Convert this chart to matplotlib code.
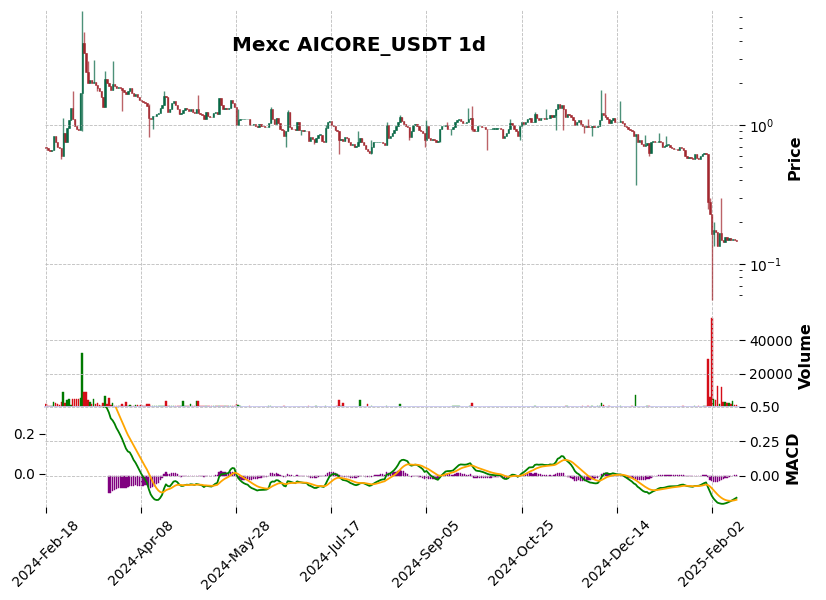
import numpy as np
import pandas as pd
import matplotlib
matplotlib.use("Agg")
import matplotlib.pyplot as plt
from matplotlib.ticker import LogLocator, NullFormatter

# daily candles (Mexc AICORE_USDT, 1d)
start_date = "2024-02-18"
first_open = 0.70
closes = [
    0.68, 0.66, 0.65, 0.66, 0.84, 0.75, 0.70, 0.68, 0.60, 0.88,
    0.76, 0.95, 1.09, 1.33, 1.10, 0.98, 0.93, 0.92, 1.70, 3.90,
    3.30, 2.40, 2.00, 2.10, 2.00, 2.05, 1.95, 1.85, 1.75, 1.58,
    1.35, 2.15, 2.00, 1.90, 1.78, 1.98, 1.92, 1.84, 1.88, 1.84,
    1.80, 1.72, 1.68, 1.75, 1.85, 1.70, 1.62, 1.66, 1.58, 1.52,
    1.48, 1.47, 1.45, 1.38, 1.12, 1.10, 1.16, 1.16, 1.20, 1.22,
    1.32, 1.40, 1.62, 1.58, 1.25, 1.30, 1.45, 1.50, 1.40, 1.30,
    1.20, 1.22, 1.28, 1.32, 1.30, 1.26, 1.30, 1.25, 1.22, 1.30,
    1.22, 1.20, 1.18, 1.10, 1.25, 1.16, 1.15, 1.14, 1.22, 1.25,
    1.21, 1.56, 1.40, 1.30, 1.32, 1.30, 1.33, 1.52, 1.45, 1.35,
    1.00, 1.08, 1.10, 1.10, 1.10, 1.10, 1.10, 1.00, 1.00, 1.01,
    0.98, 0.96, 1.02, 0.99, 0.98, 0.97, 0.97, 1.03, 1.30, 1.10,
    1.02, 1.12, 1.03, 0.94, 0.92, 0.83, 0.90, 1.25, 0.97, 0.94,
    0.93, 0.92, 1.05, 0.92, 0.92, 0.91, 0.91, 0.90, 0.77, 0.82,
    0.79, 0.76, 0.80, 0.85, 0.85, 0.77, 0.76, 0.95, 1.05, 1.07,
    1.00, 0.98, 0.92, 0.90, 0.78, 0.79, 0.77, 0.82, 0.80, 0.76,
    0.72, 0.73, 0.70, 0.71, 0.76, 0.80, 0.76, 0.72, 0.67, 0.65,
    0.63, 0.70, 0.75, 0.75, 0.75, 0.75, 0.76, 0.74, 0.72, 1.00,
    0.80, 0.84, 0.88, 0.92, 0.98, 1.05, 1.14, 1.07, 1.02, 0.98,
    0.97, 0.82, 0.90, 1.00, 1.02, 0.98, 0.92, 0.90, 0.88, 0.78,
    0.98, 0.80, 0.78, 0.79, 0.78, 0.76, 0.77, 0.94, 0.98, 0.98,
    1.00, 0.94, 0.93, 0.93, 0.96, 1.05, 1.08, 1.10, 1.07, 1.03,
    1.04, 1.06, 1.10, 1.12, 0.93, 0.90, 0.90, 0.98, 0.99, 0.97,
    0.96, 0.94, 0.93, 0.93, 0.94, 0.94, 0.94, 0.95, 0.95, 0.94,
    0.80, 0.83, 0.88, 0.94, 1.03, 1.00, 0.93, 0.90, 0.84, 0.98,
    1.05, 1.02, 1.06, 1.10, 1.12, 1.05, 1.06, 1.20, 1.12, 1.09,
    1.12, 1.12, 1.10, 1.12, 1.13, 1.18, 1.14, 1.18, 1.30, 1.42,
    1.32, 1.40, 1.30, 1.15, 1.20, 1.18, 1.15, 1.08, 1.00, 1.05,
    1.08, 1.02, 0.98, 0.96, 0.99, 0.97, 0.96, 0.98, 0.96, 0.96,
    0.98, 1.09, 1.22, 1.19, 1.15, 1.10, 1.04, 1.08, 1.12, 1.06,
    1.05, 1.06, 1.07, 1.04, 0.98, 0.96, 0.94, 0.92, 0.90, 0.84,
    0.86, 0.76, 0.78, 0.73, 0.71, 0.72, 0.74, 0.63, 0.76, 0.77,
    0.75, 0.76, 0.77, 0.75, 0.70, 0.71, 0.72, 0.72, 0.70, 0.68,
    0.67, 0.67, 0.66, 0.70, 0.68, 0.66, 0.60, 0.58, 0.59, 0.58,
    0.57, 0.62, 0.58, 0.57, 0.60, 0.62, 0.63, 0.62, 0.28, 0.23,
    0.165, 0.175, 0.17, 0.135, 0.168, 0.148, 0.145, 0.157, 0.150, 0.153,
    0.148, 0.152, 0.150, 0.147,
]
# wicks that reach visibly beyond the body
wick_hi = {9: 1.12, 14: 1.75, 19: 6.6, 20: 4.7, 22: 2.9, 25: 2.95, 31: 2.45,
           35: 2.9, 54: 1.42, 62: 1.75, 80: 1.65, 101: 1.30, 118: 1.35,
           127: 1.28, 147: 1.0, 164: 0.90, 171: 0.78, 179: 1.05, 186: 1.18,
           200: 1.08, 211: 1.05, 222: 1.32, 224: 1.38, 244: 1.10, 257: 1.24,
           263: 1.30, 285: 1.10, 292: 1.78, 294: 1.70, 302: 1.50, 315: 0.85,
           322: 0.88, 326: 0.84, 349: 0.30, 351: 0.20, 355: 0.30}
wick_lo = {8: 0.57, 19: 0.91, 27: 1.75, 40: 1.26, 54: 0.82, 56: 0.93,
           126: 0.70, 134: 0.85, 141: 0.73, 154: 0.62, 171: 0.62, 191: 0.78,
           199: 0.70, 207: 0.75, 213: 0.85, 224: 0.90, 232: 0.66, 249: 0.78,
           268: 0.92, 272: 0.92, 283: 0.88, 287: 0.83, 310: 0.37, 317: 0.60,
           348: 0.25, 350: 0.055, 351: 0.135}
volumes = [
    1600, 600, 400, 800, 3000, 2600, 1800, 1000, 3000, 9100,
    2600, 4200, 5000, 900, 5000, 5000, 5000, 5000, 5600, 32000,
    9100, 9100, 4200, 3000, 1800, 5000, 1500, 2200, 1000, 800,
    2600, 6700, 1600, 5600, 1200, 2600, 600, 600, 500, 600,
    1800, 600, 3000, 800, 1000, 600, 700, 1000, 1000, 500,
    900, 400, 500, 1600, 1800, 400, 300, 600, 300, 600,
    300, 500, 600, 3400, 500, 300, 300, 300, 300, 300,
    300, 300, 3400, 600, 300, 300, 1800, 300, 300, 3400,
    3400, 300, 300, 300, 300, 300, 300, 300, 300, 600,
    300, 300, 300, 300, 300, 300, 500, 300, 300, 300,
    1800, 1000, 300, 200, 200, 200, 200, 300, 200, 200,
    200, 200, 200, 200, 200, 200, 200, 800, 300, 200,
    200, 200, 200, 200, 200, 300, 200, 200, 200, 200,
    200, 200, 200, 200, 200, 200, 200, 200, 700, 200,
    200, 200, 600, 200, 200, 200, 200, 300, 200, 200,
    200, 200, 200, 300, 4200, 300, 2400, 200, 200, 200,
    200, 200, 200, 200, 200, 4200, 200, 200, 200, 1800,
    200, 300, 200, 200, 200, 200, 200, 200, 200, 500,
    200, 200, 200, 200, 200, 200, 1800, 200, 200, 200,
    200, 200, 200, 200, 200, 200, 200, 200, 200, 200,
    200, 200, 200, 200, 200, 200, 200, 200, 200, 200,
    200, 200, 200, 200, 400, 400, 300, 300, 200, 200,
    200, 200, 200, 800, 2400, 200, 200, 200, 200, 200,
    200, 200, 200, 200, 200, 200, 200, 200, 200, 200,
    200, 200, 200, 200, 200, 200, 200, 200, 200, 200,
    200, 200, 200, 200, 200, 200, 200, 500, 200, 200,
    200, 200, 200, 200, 200, 200, 200, 200, 200, 200,
    200, 200, 200, 300, 300, 200, 200, 200, 200, 200,
    200, 200, 300, 200, 200, 300, 200, 300, 200, 200,
    300, 500, 2400, 1200, 200, 200, 300, 200, 200, 200,
    200, 200, 300, 200, 200, 200, 200, 200, 400, 200,
    7000, 200, 200, 200, 200, 200, 600, 700, 200, 200,
    200, 200, 200, 200, 200, 200, 200, 200, 200, 200,
    200, 200, 200, 200, 200, 500, 200, 200, 200, 200,
    200, 600, 200, 600, 200, 200, 300, 400, 28500, 5700,
    53000, 4500, 4100, 12500, 2000, 11700, 2800, 3200, 2200, 2200,
    1500, 3500, 1200, 1000,
]

n = len(closes)
dates = pd.date_range(start_date, periods=n, freq="D")
close = pd.Series(closes, index=dates)
opens = np.r_[first_open, np.array(closes[:-1])]
cl = np.array(closes)
highs = np.maximum(opens, cl)
lows = np.minimum(opens, cl)
for k, v in wick_hi.items():
    highs[k] = max(highs[k], v)
for k, v in wick_lo.items():
    lows[k] = min(lows[k], v)


def ema(s, span):
    # ema seeded with the sma of the first `span` values
    v = s.dropna().copy()
    seed = v.iloc[:span].mean()
    v.iloc[:span - 1] = np.nan
    v.iloc[span - 1] = seed
    return v.ewm(span=span, adjust=False).mean().reindex(s.index)


# MACD 12/26/9
macd = ema(close, 12) - ema(close, 26)
signal = ema(macd, 9)
hist = macd - signal

x = np.arange(n)
up = cl >= opens
c_up, c_dn = "#006340", "#A02128"
v_up, v_dn = "#007a00", "#d50d18"
gridkw = dict(linestyle="--", linewidth=0.6, color="#bdbdbd")

fig = plt.figure(figsize=(8.26, 6.0), dpi=100)
L, W = 0.0544, 0.840
ax_p = fig.add_axes([L, 0.4917, W, 0.4917])
ax_v = fig.add_axes([L, 0.3217, W, 0.17], sharex=ax_p)
ax_m = fig.add_axes([L, 0.155, W, 0.1667], sharex=ax_p)
ax_ml = ax_m.twinx()

# candles
col = np.where(up, c_up, c_dn)
ax_p.vlines(x, lows, highs, colors=col, linewidth=1.0, alpha=0.7)
body_lo = np.minimum(opens, cl)
body_h = np.abs(cl - opens)
body_h = np.maximum(body_h, body_lo * 0.006)
ax_p.bar(x, body_h, bottom=body_lo, width=0.7, color=col, edgecolor=col,
         linewidth=0.4, alpha=0.9)
ax_p.set_yscale("log")
ax_p.set_ylim(0.0507, 6.73)
ax_p.yaxis.set_major_locator(LogLocator(base=10))
ax_p.yaxis.set_minor_locator(LogLocator(base=10, subs=np.arange(2, 10)))
ax_p.yaxis.set_minor_formatter(NullFormatter())
ax_p.set_ylabel("Price", fontsize=11.5, fontweight="bold")

# volume
vcol = np.where(up, v_up, v_dn)
ax_v.bar(x, volumes, width=0.8, color=vcol, edgecolor=vcol, linewidth=0.3)
ax_v.axhline(0, color="#c8c8f0", linewidth=1.3, clip_on=False, zorder=3)
ax_v.set_ylim(0, 61000)
ax_v.set_yticks([20000, 40000])
ax_v.set_ylabel("Volume", fontsize=11.5, fontweight="bold")

# macd
ax_m.bar(x, hist.values, width=0.7, color="purple", edgecolor="purple",
         linewidth=0.3)
ax_m.set_ylim(-0.2246, 0.5)
ax_m.set_yticks([0.0, 0.25, 0.5])
ax_m.set_yticklabels(["0.00", "0.25", "0.50"])
ax_m.set_ylabel("MACD", fontsize=11.5, fontweight="bold")
ax_ml.plot(x, macd.values, color="green", linewidth=1.3)
ax_ml.plot(x, signal.values, color="orange", linewidth=1.3)
ax_ml.set_ylim(-0.165, 0.335)
ax_ml.set_yticks([0.0, 0.2])
ax_ml.set_yticklabels(["0.0", "0.2"])
ax_ml.yaxis.set_ticks_position("left")
ax_ml.yaxis.set_label_position("left")

ax_p.set_xlim(-0.6, 364.2)
ticks = list(range(0, n, 50))
ax_m.set_xticks(ticks)
ax_m.set_xticklabels([dates[i].strftime("%Y-%b-%d") for i in ticks])
plt.setp(ax_m.get_xticklabels(), rotation=45, ha="center", fontsize=10)

for ax in (ax_p, ax_v, ax_m):
    ax.yaxis.tick_right()
    ax.yaxis.set_label_position("right")
    ax.grid(True, which="major", **gridkw)
    ax.tick_params(axis="y", labelsize=10, length=4, width=0.8)
for ax in (ax_p, ax_v):
    ax.tick_params(axis="x", bottom=False, labelbottom=False)
ax_p.tick_params(axis="y", which="minor", length=2, width=0.6)
ax_m.tick_params(axis="x", length=4, width=0.8)
ax_ml.tick_params(axis="y", labelsize=10, length=4, width=0.8,
                  left=True, labelleft=True, right=False, labelright=False)
ax_ml.tick_params(axis="x", bottom=False, labelbottom=False)
for ax in (ax_p, ax_v, ax_m, ax_ml):
    for s in ax.spines.values():
        s.set_visible(False)

fig.text(0.4346, 0.9233, "Mexc AICORE_USDT 1d", fontsize=14.3,
         fontweight="bold", ha="center", va="center")

fig.savefig("out.png", dpi=100)
